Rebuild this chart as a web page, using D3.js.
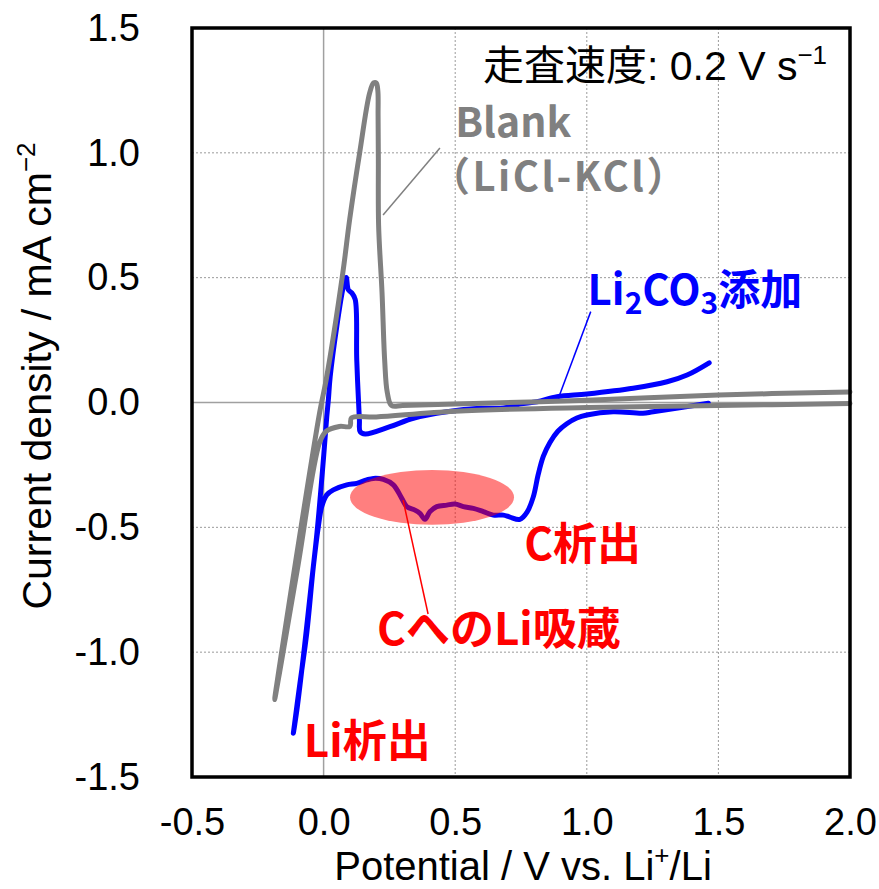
<!DOCTYPE html>
<html>
<head>
<meta charset="utf-8">
<script src="https://cdn.jsdelivr.net/npm/d3@7"></script>
<style>
  body { margin: 0; background: #fff; }
  svg { display: block; }
</style>
</head>
<body>
<svg id="chart" width="879" height="889"></svg>
<script>
// Axis ticks
const xTicks = [-0.5, 0.0, 0.5, 1.0, 1.5, 2.0];
const yTicks = [-1.5, -1.0, -0.5, 0.0, 0.5, 1.0, 1.5];

// Blank (LiCl-KCl): cathodic sweep from 2.0 V, then anodic back
const blankPotential = [2.000, 1.500, 1.000, 0.500, 0.200, 0.106, 0.100, 0.060, 0.010, -0.015, -0.100, -0.186,
  -0.015, 0.010, 0.073, 0.099, 0.137, 0.175, 0.190, 0.200, 0.206, 0.207, 0.208, 0.209, 0.222, 0.232, 0.242,
  0.258, 0.300, 0.500, 1.000, 1.500, 2.000];
const blankCurrent = [-0.004, -0.012, -0.020, -0.035, -0.058, -0.062, -0.095, -0.096, -0.115, -0.160, -0.670, -1.190,
  -0.040, 0.092, 0.519, 0.733, 1.000, 1.240, 1.280, 1.280, 1.250, 1.150, 0.980, 0.710, 0.440, 0.170, 0.040,
  -0.012, -0.012, -0.006, 0.009, 0.030, 0.042];

// Li2CO3 added: cathodic sweep from 1.46 V, then anodic back
const li2co3Potential = [1.462, 1.252, 1.213, 1.100, 1.000, 0.962, 0.924, 0.890, 0.860, 0.835, 0.815, 0.797,
  0.773, 0.746, 0.708, 0.683, 0.645, 0.607, 0.569, 0.531, 0.499, 0.468, 0.430, 0.404, 0.385, 0.366, 0.347, 0.316,
  0.297, 0.265, 0.227, 0.189, 0.164, 0.126, 0.088, 0.037, 0.012, -0.007, -0.020, -0.039, -0.064, -0.090, -0.115,
  -0.100, -0.075, -0.050, -0.025, -0.003, 0.012, 0.018, 0.025, 0.050, 0.075, 0.086, 0.094, 0.107, 0.120,
  0.126, 0.136, 0.139, 0.158, 0.252, 0.341, 0.468, 0.594, 0.683, 0.746, 0.811, 0.887, 1.000, 1.176, 1.305,
  1.381, 1.465];
const li2co3Current = [-0.003, -0.037, -0.043, -0.037, -0.050, -0.062, -0.085, -0.115, -0.160, -0.215, -0.290, -0.377,
  -0.439, -0.468, -0.459, -0.451, -0.451, -0.437, -0.424, -0.417, -0.407, -0.411, -0.417, -0.437, -0.468, -0.444, -0.431, -0.417,
  -0.384, -0.330, -0.308, -0.304, -0.310, -0.324, -0.330, -0.350, -0.370, -0.417, -0.497, -0.658, -0.924, -1.125, -1.325,
  -1.220, -1.000, -0.760, -0.520, -0.257, -0.057, 0.010, 0.103, 0.304, 0.464, 0.501, 0.451, 0.439, 0.413,
  0.170, -0.070, -0.117, -0.126, -0.097, -0.063, -0.037, -0.023, -0.022, -0.006, 0.003, 0.023, 0.034, 0.057, 0.083,
  0.110, 0.159];

const fmt = d => d.toFixed(1);

const svg = d3.select("#chart");
const plot = { left: 192, right: 850, top: 28, bottom: 777 };

const x = d3.scaleLinear().domain([-0.5, 2.0]).range([plot.left, plot.right]);
const y = d3.scaleLinear().domain([-1.5, 1.5]).range([plot.bottom, plot.top]);

// Grid: solid lines through zero, dotted lines elsewhere
const grid = svg.append("g");
grid.selectAll("line.vx").data(xTicks.filter(d => d > -0.5 && d < 2.0)).join("line")
  .attr("x1", d => x(d)).attr("x2", d => x(d))
  .attr("y1", plot.top).attr("y2", plot.bottom)
  .attr("stroke", d => d === 0 ? "#a0a0a0" : "#9a9a9a")
  .attr("stroke-width", d => d === 0 ? 1.5 : 1)
  .attr("stroke-dasharray", d => d === 0 ? null : "2,2");
grid.selectAll("line.hy").data(yTicks.filter(d => d > -1.5 && d < 1.5)).join("line")
  .attr("x1", plot.left).attr("x2", plot.right)
  .attr("y1", d => y(d)).attr("y2", d => y(d))
  .attr("stroke", d => d === 0 ? "#a0a0a0" : "#9a9a9a")
  .attr("stroke-width", d => d === 0 ? 1.5 : 1)
  .attr("stroke-dasharray", d => d === 0 ? null : "2,2");

// Axes (labels only; frame drawn separately)
const axisFont = "'Liberation Sans', Arial, sans-serif";
const xAxis = svg.append("g").attr("transform", `translate(0,${plot.bottom})`)
  .call(d3.axisBottom(x).tickValues(xTicks).tickFormat(fmt).tickSize(0).tickPadding(31));
const yAxis = svg.append("g").attr("transform", `translate(${plot.left},0)`)
  .call(d3.axisLeft(y).tickValues(yTicks).tickFormat(fmt).tickSize(0).tickPadding(52));
[xAxis, yAxis].forEach(g => {
  g.select(".domain").remove();
  g.selectAll("text").attr("font-family", axisFont).attr("fill", "#000").attr("font-size", 38);
});

// Curves
const line = d3.line().x(d => x(d[0])).y(d => y(d[1])).curve(d3.curveCatmullRom.alpha(0.5));
svg.append("path").datum(d3.zip(li2co3Potential, li2co3Current))
  .attr("d", line).attr("fill", "none").attr("stroke", "#0000ff")
  .attr("stroke-width", 5).attr("stroke-linejoin", "round").attr("stroke-linecap", "round");
svg.append("path").datum(d3.zip(blankPotential, blankCurrent))
  .attr("d", line).attr("fill", "none").attr("stroke", "#808080")
  .attr("stroke-width", 5).attr("stroke-linejoin", "round").attr("stroke-linecap", "round");

// Highlight of the Li insertion region
svg.append("ellipse")
  .attr("cx", x(0.412)).attr("cy", y(-0.380))
  .attr("rx", x(0.3115) - x(0)).attr("ry", y(0) - y(0.110))
  .attr("fill", "#ff0000").attr("fill-opacity", 0.5);

// Frame
svg.append("rect")
  .attr("x", plot.left).attr("y", plot.top)
  .attr("width", plot.right - plot.left).attr("height", plot.bottom - plot.top)
  .attr("fill", "none").attr("stroke", "#000").attr("stroke-width", 3.5);

// Leader lines
const leader = (a, b, color) => svg.append("line")
  .attr("x1", x(a[0])).attr("y1", y(a[1])).attr("x2", x(b[0])).attr("y2", y(b[1]))
  .attr("stroke", color).attr("stroke-width", 1.5);
leader([0.226, 0.751], [0.442, 1.019], "#808080");
leader([0.892, 0.017], [1.015, 0.364], "#0000ff");
leader([0.302, -0.391], [0.397, -0.847], "#ff0000");

// Annotation text
const jpFont = "'Noto Sans CJK JP', 'Noto Sans', sans-serif";
const label = (v, i, color, size) => svg.append("text")
  .attr("x", x(v)).attr("y", y(i))
  .attr("font-family", jpFont).attr("font-weight", "bold")
  .attr("font-size", size).attr("fill", color);

label(0.5, 1.062, "#808080", 41).text("Blank");
label(0.404, 0.848, "#808080", 40).attr("letter-spacing", 2.5).text("（LiCl-KCl）");

const li = label(1.003, 0.39, "#0000ff", 42);
li.append("tspan").text("Li");
li.append("tspan").attr("font-size", 30).attr("dy", 9).text("2");
li.append("tspan").attr("dy", -9).text("CO");
li.append("tspan").attr("font-size", 30).attr("dy", 9).text("3");
li.append("tspan").attr("dy", -9).text("添加");

label(0.762, -0.631, "#ff0000", 44).text("C析出");
label(0.203, -0.971, "#ff0000", 44).text("CへのLi吸蔵");
label(-0.075, -1.42, "#ff0000", 44).text("Li析出");

// Scan rate
const rate = svg.append("text")
  .attr("x", x(1.913)).attr("y", y(1.29)).attr("text-anchor", "end")
  .attr("font-family", "'Liberation Sans', 'Noto Sans CJK JP', sans-serif")
  .attr("font-size", 41).attr("fill", "#000");
rate.append("tspan").text("走査速度: 0.2 V s");
rate.append("tspan").attr("font-size", 26).attr("dy", -16).text("−1");

// Axis titles
const xt = svg.append("text")
  .attr("x", (plot.left + plot.right) / 2 + 2).attr("y", 880)
  .attr("text-anchor", "middle").attr("font-family", axisFont)
  .attr("font-size", 40).attr("fill", "#000");
xt.append("tspan").text("Potential / V vs. Li");
xt.append("tspan").attr("font-size", 26).attr("dy", -16).text("+");
xt.append("tspan").attr("dy", 16).text("/Li");

const yt = svg.append("text")
  .attr("transform", "translate(51,376) rotate(-90)")
  .attr("text-anchor", "middle").attr("font-family", axisFont)
  .attr("font-size", 41).attr("fill", "#000");
yt.append("tspan").text("Current density / mA cm");
yt.append("tspan").attr("font-size", 26).attr("dy", -16).text("−2");
</script>
</body>
</html>
